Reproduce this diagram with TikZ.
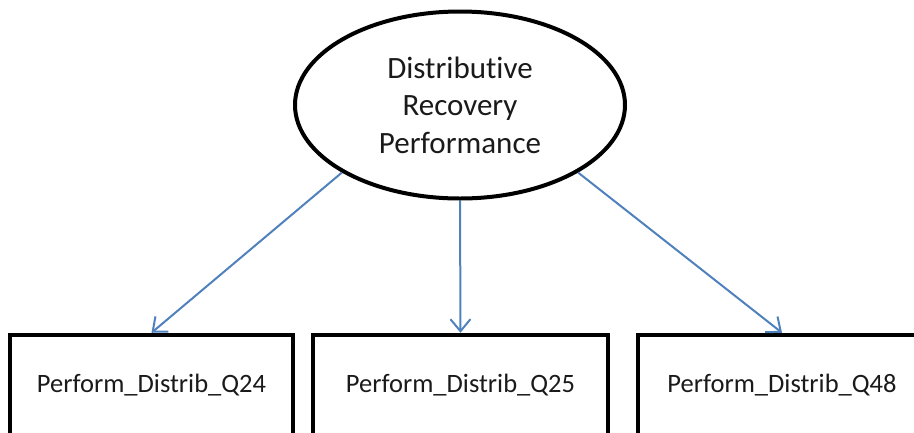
\documentclass[tikz,border=0pt]{standalone}
\usepackage{fontspec}
\setmainfont{Carlito}[Ligatures=NoCommon]
\usetikzlibrary{shapes.geometric,arrows.meta}
\definecolor{linkblue}{HTML}{4F81BD}
\definecolor{textgray}{HTML}{1A1A1A}

\begin{document}
\begin{tikzpicture}[x=1pt,y=-1pt]
\tikzset{
  latent/.style={ellipse,draw=black,line width=4pt,minimum width=330pt,minimum height=187pt,inner sep=0pt,
    align=center,text=textgray,font=\fontsize{31}{37.5}\selectfont},
  item/.style={rectangle,draw=black,line width=4.5pt,minimum height=100pt,inner sep=0pt,
    text=textgray,font=\fontsize{26.5}{32}\selectfont},
  link/.style={linkblue,line width=2pt,-{Straight Barb[length=12pt,width=20pt]}}
}
\useasboundingbox (0,0) rectangle (914,432);

\node[latent] (drp) at (460,105) {Distributive\\Recovery\\Performance};

\node[item,minimum width=283pt] (q24) at (151.5,385) {Perform\_Distrib\_Q24};
\node[item,minimum width=295pt] (q25) at (460.5,385) {Perform\_Distrib\_Q25};
\node[item,minimum width=288pt] (q48) at (782,385) {Perform\_Distrib\_Q48};

\draw[link] (drp.south west) -- (q24.north);
\draw[link] (drp.south) -- (q25.north);
\draw[link] (drp.south east) -- (q48.north);

\end{tikzpicture}
\end{document}
